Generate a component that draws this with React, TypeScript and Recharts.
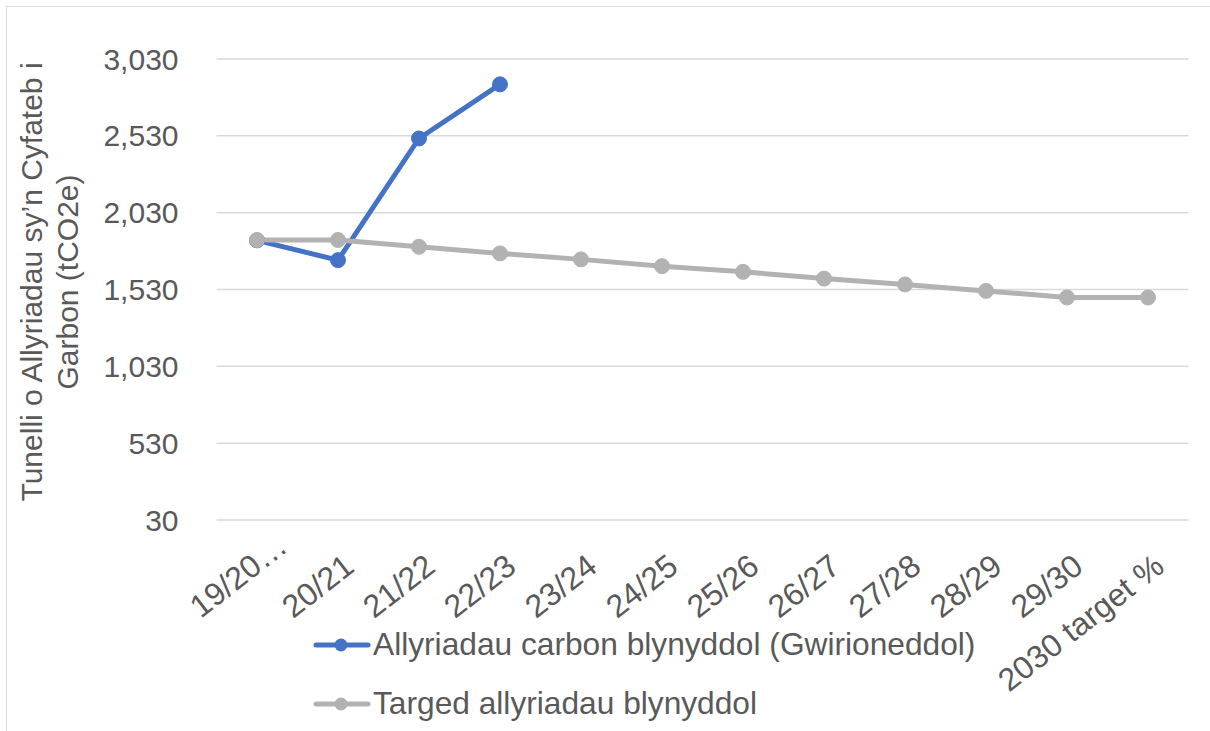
import { LineChart, Line, XAxis, YAxis, CartesianGrid, Legend } from "recharts";

// Financial years on the category axis
const years = ["19/20…", "20/21", "21/22", "22/23", "23/24", "24/25", "25/26", "26/27", "27/28", "28/29", "29/30", "2030 target %"];

// Actual annual carbon emissions (tCO2e) — only four years reported
const actual: (number | null)[] = [1850, 1721, 2513, 2865, null, null, null, null, null, null, null, null];

// Target trajectory
const target: number[] = [1852, 1852, 1808, 1765, 1726, 1682, 1645, 1601, 1563, 1521, 1478, 1478];

const yTicks = [30, 530, 1030, 1530, 2030, 2530, 3030];

const BLUE = "#4472C4";
const GREY = "#B2B2B2";
const TEXT = "#595959";
const FONT = "'Liberation Sans', Arial, sans-serif";

const data = years.map((y, i) => ({ year: y, actual: actual[i], target: target[i] }));

const ANGLE = 38;
const TICK_FS = 32;

// slanted category label; top-right of the glyphs sits just right of the tick
function XTick(props: any) {
  const { x, y, payload } = props;
  const label: string = payload.value;
  const trunc = label.endsWith("…");
  const rad = (ANGLE * Math.PI) / 180;
  const h = 0.716 * TICK_FS;
  const tx = x + 4 + (trunc ? 14 : 0);
  const ty = y + 32 + (trunc ? -20 : 0);
  const bx = tx + h * Math.sin(rad);
  const by = ty + h * Math.cos(rad);
  return (
    <text
      x={bx}
      y={by}
      transform={`rotate(${-ANGLE} ${bx} ${by})`}
      textAnchor="end"
      fill={TEXT}
      fontSize={TICK_FS}
      fontFamily={FONT}
    >
      {label}
    </text>
  );
}

function LegendBox() {
  const items = [
    { label: "Allyriadau carbon blynyddol (Gwirioneddol)", color: BLUE },
    { label: "Targed allyriadau blynyddol", color: GREY },
  ];
  return (
    <div style={{ fontFamily: FONT, fontSize: 31.7, color: TEXT }}>
      {items.map((it) => (
        <div key={it.label} style={{ display: "flex", alignItems: "center", height: 59, whiteSpace: "nowrap" }}>
          <svg width={58} height={20} style={{ marginRight: 2 }}>
            <line x1={3} y1={10} x2={55} y2={10} stroke={it.color} strokeWidth={5} strokeLinecap="round" />
            <circle cx={28} cy={10} r={6.5} fill={it.color} />
          </svg>
          <span>{it.label}</span>
        </div>
      ))}
    </div>
  );
}

export default function App() {
  return (
    <div style={{ position: "absolute", left: 0, top: 0, width: 1210, height: 731, overflow: "hidden", background: "#fff" }}>
      <div
        style={{
          position: "absolute",
          left: 6,
          top: 6,
          width: 1230,
          height: 760,
          border: "1px solid #D9D9D9",
        }}
      />
      <div style={{ position: "absolute", left: 0, top: 0 }}>
        <LineChart width={1210} height={731} data={data} margin={{ top: 59, right: 21.5, bottom: 0, left: 0 }}>
          <CartesianGrid vertical={false} stroke="#D9D9D9" strokeWidth={1.5} />
          <XAxis
            dataKey="year"
            interval={0}
            height={211}
            padding={{ left: 40.5, right: 40.5 }}
            axisLine={false}
            tickLine={false}
            tickSize={0}
            tickMargin={0}
            tick={<XTick />}
          />
          <YAxis
            width={216.5}
            domain={[30, 3030]}
            ticks={yTicks}
            axisLine={false}
            tickLine={false}
            tickSize={0}
            tickMargin={38}
            tickFormatter={(v: number) => v.toLocaleString("en-US")}
            tick={{ fill: TEXT, fontSize: 30, fontFamily: FONT }}
          />
          <Legend
            layout="vertical"
            align="center"
            verticalAlign="middle"
            content={<LegendBox />}
            wrapperStyle={{ left: 313, top: 615, width: 800 }}
          />
          <Line
            dataKey="actual"
            name="Allyriadau carbon blynyddol (Gwirioneddol)"
            stroke={BLUE}
            strokeWidth={5}
            dot={{ r: 7.5, fill: BLUE, stroke: BLUE, strokeWidth: 1 }}
            isAnimationActive={false}
          />
          <Line
            dataKey="target"
            name="Targed allyriadau blynyddol"
            stroke={GREY}
            strokeWidth={5}
            dot={{ r: 7.5, fill: GREY, stroke: GREY, strokeWidth: 1 }}
            isAnimationActive={false}
          />
        </LineChart>
      </div>
      <svg width={120} height={560} style={{ position: "absolute", left: 0, top: 0 }}>
        <text
          transform="translate(42 282) rotate(-90)"
          textAnchor="middle"
          fill={TEXT}
          fontSize={30}
          fontFamily={FONT}
        >
          Tunelli o Allyriadau sy’n Cyfateb i
        </text>
        <text
          transform="translate(78 282) rotate(-90)"
          textAnchor="middle"
          fill={TEXT}
          fontSize={30}
          fontFamily={FONT}
        >
          Garbon (tCO2e)
        </text>
      </svg>
    </div>
  );
}
